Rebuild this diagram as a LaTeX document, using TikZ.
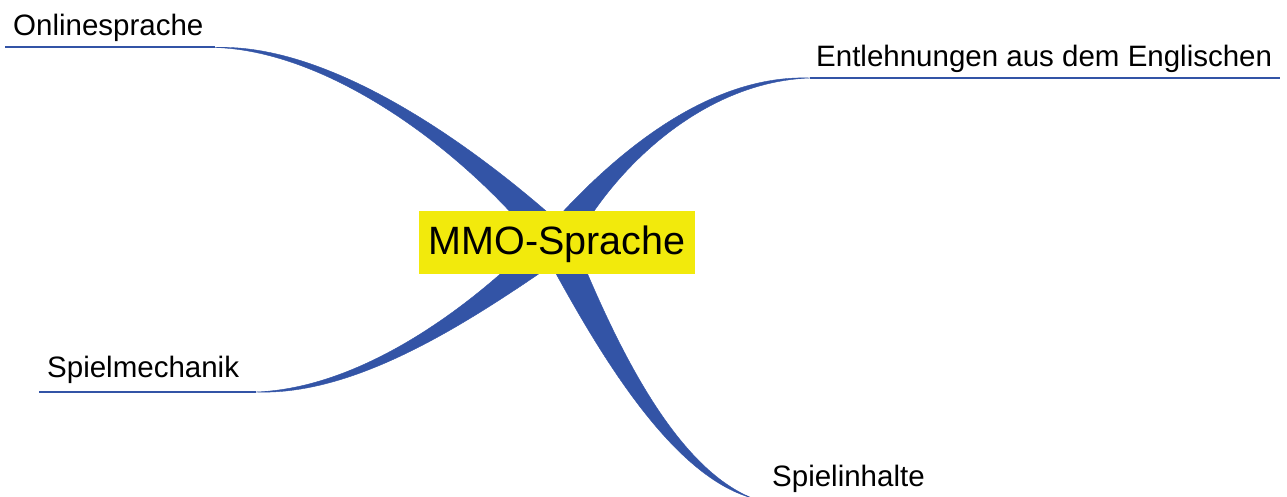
\documentclass[tikz,border=0pt]{standalone}
\usepackage{fontspec}
\setmainfont{Liberation Sans}
\definecolor{branchblue}{RGB}{51,84,166}
\definecolor{topicyellow}{RGB}{242,234,12}
\begin{document}
\begin{tikzpicture}[x=1pt,y=-1pt,
  branch/.style={fill=branchblue, draw=branchblue, line width=0.4pt, line join=round},
  stem/.style={draw=branchblue, line width=2pt},
  label/.style={anchor=base west, inner sep=0pt, font=\fontsize{29.5}{35}\selectfont},
  topic/.style={fill=topicyellow, minimum width=276pt, minimum height=63pt,
    inner sep=0pt, text height=29pt, text depth=6pt, font=\fontsize{39.5}{47}\selectfont}]
\useasboundingbox (0,0) rectangle (1287,497);

% where each tapered branch turns into a plain underline
\coordinate (online-end) at (215,47.5);
\coordinate (loan-end)   at (810,78);
\coordinate (mech-end)   at (256,392);
\coordinate (cont-end)   at (752,498);

% far ends of the underlines
\coordinate (online-tip) at (5,47.5);
\coordinate (loan-tip)   at (1280,78);
\coordinate (mech-tip)   at (39,392);
\coordinate (cont-tip)   at (910,498);

% tapered branches, thick at the hub, thin at the labels
\fill[branch] (online-end) .. controls (330,43) and (473.7,144.6) .. (568.7,231.1)
  -- (545.3,252.9) .. controls (466.3,151.4) and (330,51) .. (online-end) -- cycle;
\fill[branch] (loan-end) .. controls (700,74) and (600.8,167.2) .. (543.7,233.1)
  -- (570.3,250.9) .. controls (609.2,172.8) and (700,82) .. (loan-end) -- cycle;
\fill[branch] (mech-end) .. controls (360,388) and (469.8,309.7) .. (546.6,229.8)
  -- (567.4,254.2) .. controls (476.2,317.3) and (360,396) .. (mech-end) -- cycle;
\fill[branch] (cont-end) .. controls (671.6,465.3) and (612.1,335.8) .. (571.5,235.2)
  -- (542.5,248.8) .. controls (593.9,344.3) and (668.4,474.75) .. (cont-end) -- cycle;

% underlines
\draw[stem] (online-end) -- (online-tip);
\draw[stem] (loan-end) -- (loan-tip);
\draw[stem] (mech-end) -- (mech-tip);
\draw[stem] (cont-end) -- (cont-tip);

% central topic
\node[topic] (root) at (557,242.5) {MMO-Sprache};

% branch labels
\node[label] (online) at (13,35.5) {Onlinesprache};
\node[label] (loan)   at (816,66.7) {Entlehnungen aus dem Englischen};
\node[label] (mech)   at (47,377) {Spielmechanik};
\node[label] (cont)   at (772,486.7) {Spielinhalte};
\end{tikzpicture}
\end{document}
